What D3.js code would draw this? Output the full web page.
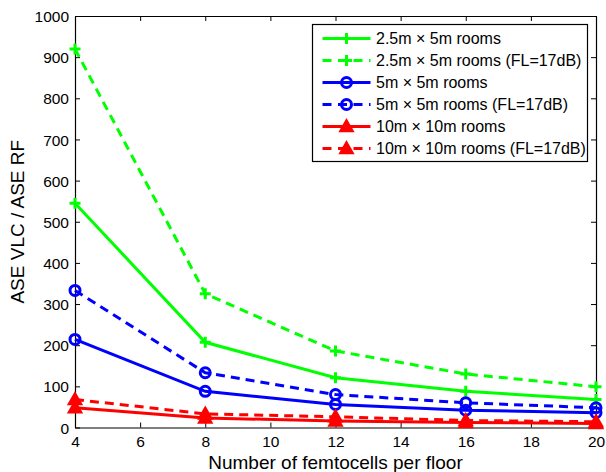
<!DOCTYPE html>
<html>
<head>
<meta charset="utf-8">
<script src="https://cdn.jsdelivr.net/npm/d3@7"></script>
<style>
  html, body { margin: 0; padding: 0; background: #fff; }
  svg { display: block; font-family: "Liberation Sans", Arial, sans-serif; }
</style>
</head>
<body>
<svg id="chart" width="606" height="472"></svg>
<script>
const femtocells = [4, 8, 12, 16, 20];
const green25 = [545, 207, 121, 88, 68];
const green25FL = [920, 325, 186, 130, 99];
const blue5 = [214, 88, 56, 42, 36];
const blue5FL = [333, 133, 80, 60, 48];
const red10 = [48, 23, 16, 12, 10];
const red10FL = [68, 33, 26, 17, 14];
const xTicks = [4, 6, 8, 10, 12, 14, 16, 18, 20];
const yTicks = [0, 100, 200, 300, 400, 500, 600, 700, 800, 900, 1000];
const seriesNames = [
  "2.5m \u00d7 5m rooms",
  "2.5m \u00d7 5m rooms (FL=17dB)",
  "5m \u00d7 5m rooms",
  "5m \u00d7 5m rooms (FL=17dB)",
  "10m \u00d7 10m rooms",
  "10m \u00d7 10m rooms (FL=17dB)"
];

const series = [
  { name: seriesNames[0], values: green25, color: "#00ff00", dashed: false, marker: "plus" },
  { name: seriesNames[1], values: green25FL, color: "#00ff00", dashed: true, marker: "plus" },
  { name: seriesNames[2], values: blue5, color: "#0000ff", dashed: false, marker: "circle" },
  { name: seriesNames[3], values: blue5FL, color: "#0000ff", dashed: true, marker: "circle" },
  { name: seriesNames[4], values: red10, color: "#ff0000", dashed: false, marker: "triangle" },
  { name: seriesNames[5], values: red10FL, color: "#ff0000", dashed: true, marker: "triangle" }
];

const L = 75, R = 596, T = 16, B = 427.5;
const svg = d3.select("#chart");
const x = d3.scaleLinear().domain([4, 20]).range([L, R]);
const y = d3.scaleLinear().domain([0, 1000]).range([B, T]);

const tickLen = 5;
const fmt = d3.format("d");
// axes
const gx = svg.append("g").attr("transform", `translate(0,${B})`)
  .call(d3.axisBottom(x).tickValues(xTicks).tickFormat(fmt).tickSizeInner(-tickLen).tickSizeOuter(0).tickPadding(8));
const gxTop = svg.append("g").attr("transform", `translate(0,${T})`)
  .call(d3.axisTop(x).tickValues(xTicks).tickSizeInner(-tickLen).tickSizeOuter(0).tickFormat(""));
const gy = svg.append("g").attr("transform", `translate(${L},0)`)
  .call(d3.axisLeft(y).tickValues(yTicks).tickFormat(fmt).tickSizeInner(-tickLen).tickSizeOuter(0).tickPadding(6));
const gyR = svg.append("g").attr("transform", `translate(${R},0)`)
  .call(d3.axisRight(y).tickValues(yTicks).tickSizeInner(-tickLen).tickSizeOuter(0).tickFormat(""));

[gx, gxTop, gy, gyR].forEach(g => {
  g.selectAll(".domain").attr("stroke", "#000").attr("stroke-width", 1.2);
  g.selectAll(".tick line").attr("stroke", "#000").attr("stroke-width", 1);
  g.selectAll(".tick text").attr("fill", "#000").style("font-size", "15.5px")
    .style("font-family", '"Liberation Sans", Arial, sans-serif');
});
gx.selectAll(".tick text").attr("dy", "0.71em");
gy.selectAll(".tick text").attr("dy", "0.36em");

// axis labels
svg.append("text").attr("x", (L + R) / 2).attr("y", 469)
  .attr("text-anchor", "middle").style("font-size", "19px").text("Number of femtocells per floor");
svg.append("text").attr("transform", `translate(24,${(T + B) / 2}) rotate(-90)`)
  .attr("text-anchor", "middle").style("font-size", "19px").text("ASE VLC / ASE RF");

function drawMarker(g, type, cx, cy, color) {
  if (type === "plus") {
    g.append("path").attr("d", `M${cx - 5.5},${cy}H${cx + 5.5}M${cx},${cy - 5.5}V${cy + 5.5}`)
      .attr("stroke", color).attr("stroke-width", 3).attr("fill", "none");
  } else if (type === "circle") {
    g.append("circle").attr("cx", cx).attr("cy", cy).attr("r", 5)
      .attr("stroke", color).attr("stroke-width", 3).attr("fill", "none");
  } else {
    const s = 6;
    g.append("path").attr("d", `M${cx},${cy - s}L${cx + s},${cy + s * 0.75}L${cx - s},${cy + s * 0.75}Z`)
      .attr("stroke", color).attr("stroke-width", 2.5).attr("stroke-linejoin", "miter").attr("fill", color);
  }
}

const line = d3.line().x((d, i) => x(femtocells[i])).y(d => y(d));

series.forEach(s => {
  const g = svg.append("g");
  g.append("path").datum(s.values).attr("d", line)
    .attr("fill", "none").attr("stroke", s.color).attr("stroke-width", 3)
    .attr("stroke-dasharray", s.dashed ? "9,6" : null);
  s.values.forEach((v, i) => drawMarker(g, s.marker, x(femtocells[i]), y(v), s.color));
});

// legend
const lg = svg.append("g");
lg.append("rect").attr("x", 312.5).attr("y", 24.5).attr("width", 275).attr("height", 137)
  .attr("fill", "#fff").attr("stroke", "#000").attr("stroke-width", 1.2);
series.forEach((s, i) => {
  const yy = 38.5 + i * 22;
  lg.append("line").attr("x1", 322.5).attr("x2", 370.5).attr("y1", yy).attr("y2", yy)
    .attr("stroke", s.color).attr("stroke-width", 3).attr("stroke-dasharray", s.dashed ? "9,6.5" : null);
  drawMarker(lg, s.marker, 346.5, yy, s.color);
  lg.append("text").attr("x", 376).attr("y", yy).attr("dy", "0.36em")
    .style("font-size", "16px").attr("fill", "#000").text(s.name);
});
</script>
</body>
</html>
